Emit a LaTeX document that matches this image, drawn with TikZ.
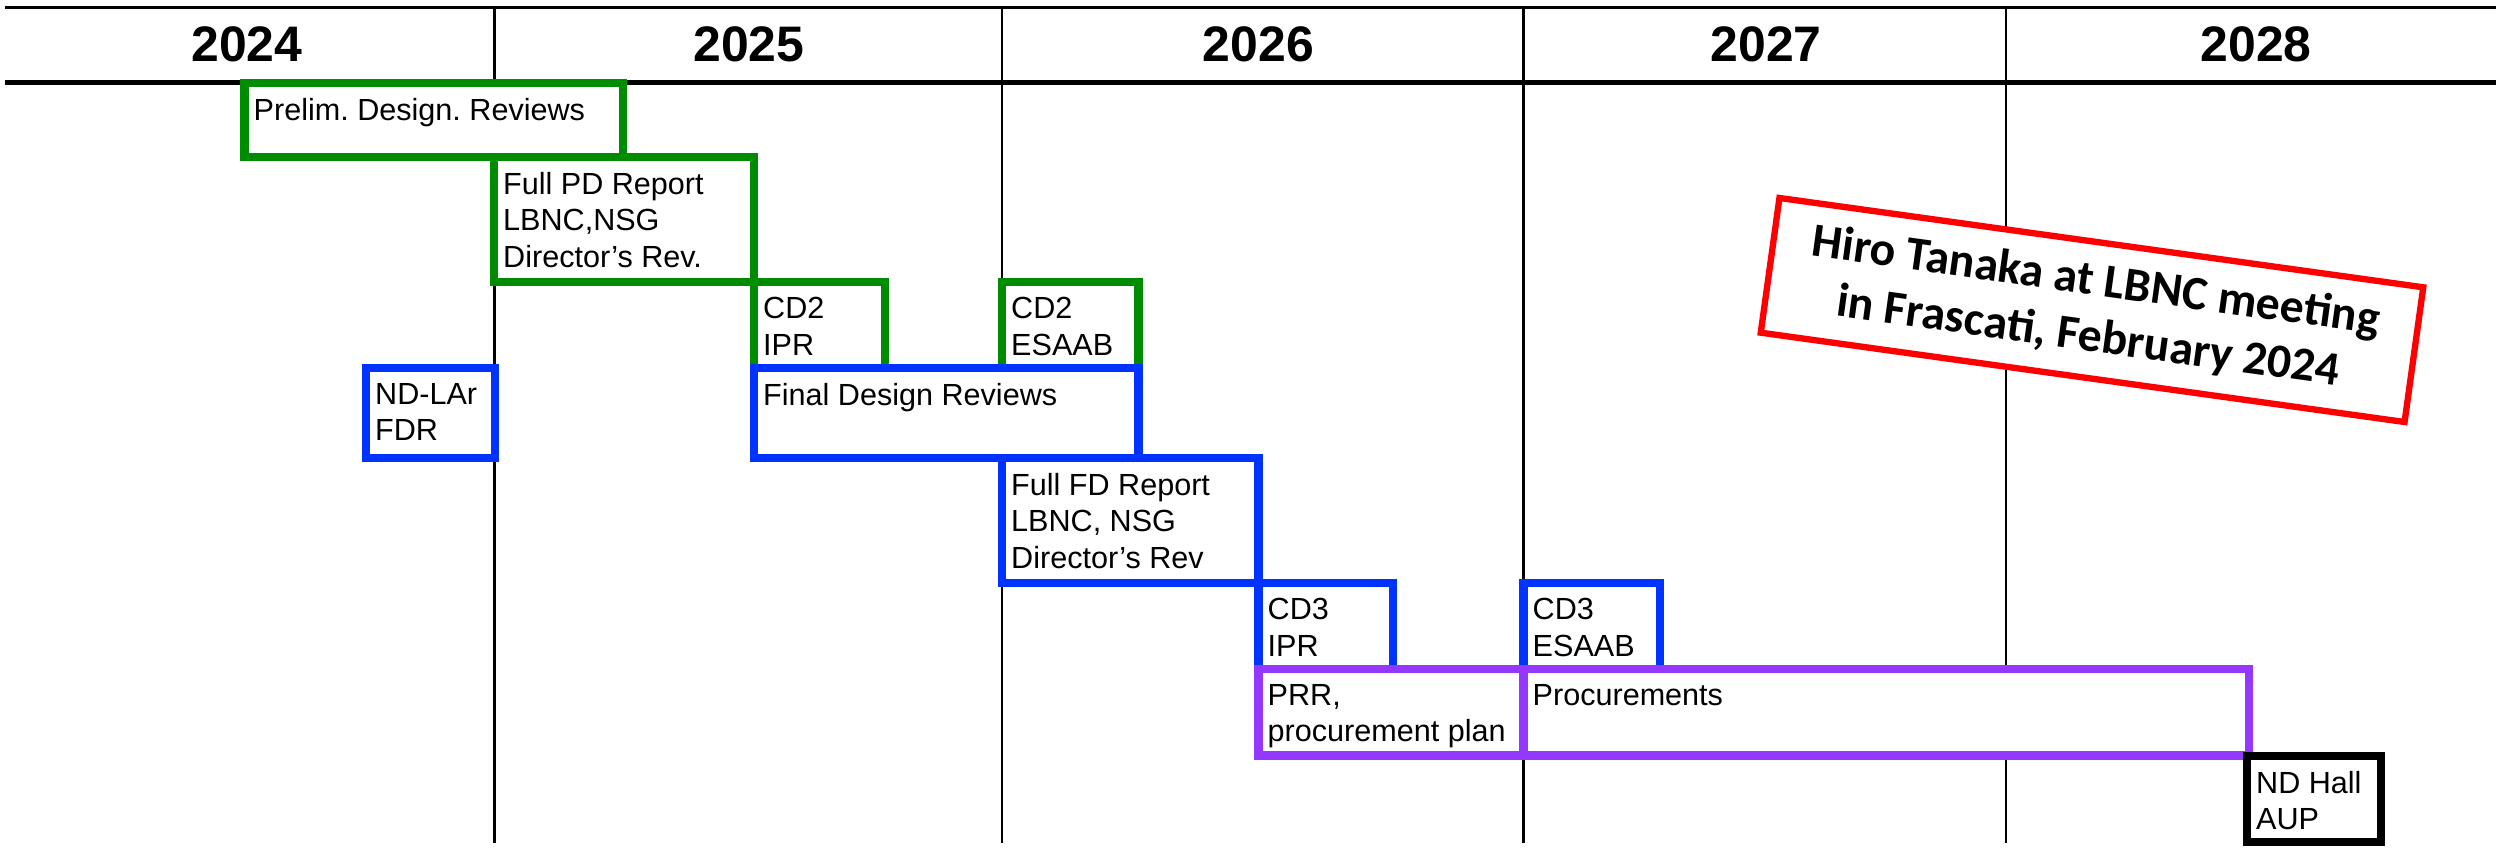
\documentclass[tikz,border=0pt]{standalone}
\usepackage{fontspec}
\setmainfont{Liberation Sans}
\newfontfamily\stampfont{Carlito}
\usepackage{tikz}
\usetikzlibrary{positioning}
\definecolor{pdgreen}{RGB}{0,140,0}
\definecolor{fdblue}{RGB}{0,51,255}
\definecolor{procpurple}{RGB}{148,56,255}
\definecolor{stampred}{RGB}{255,0,0}
\frenchspacing

\begin{document}
\begin{tikzpicture}[
    y=-1cm,
    task/.style={rectangle, draw=#1, line width=2.3pt, fill=white, anchor=north west,
                 inner sep=0pt, outer sep=0pt},
    txt/.style={anchor=north west, align=left, inner sep=0pt,
                font=\fontsize{8.7}{10.4}\selectfont},
    year/.style={anchor=base, font=\fontsize{14.2}{17}\selectfont\bfseries},
    divider/.style={line width=0.6pt},
    stamp/.style={rectangle, draw=stampred, line width=1.8pt, fill=white,
                  minimum width=6.5cm, minimum height=1.36cm, align=center, inner sep=0pt,
                  font=\stampfont\bfseries\fontsize{13.6}{16}\selectfont}
]
\useasboundingbox (0,0) rectangle (24.96,8.50);

\draw[line width=0.85pt] (0.05,0.075) -- (24.96,0.075);
\draw[line width=1.15pt] (0.05,0.825) -- (24.96,0.825);
\draw[divider] (4.945,0.075) -- (4.945,8.43);
\draw[divider] (10.02,0.075) -- (10.02,8.43);
\draw[divider] (15.235,0.075) -- (15.235,8.43);
\draw[divider] (20.06,0.075) -- (20.06,8.43);

\node[year] (y2024) at (2.47,0.62)  {2024};
\node[year] (y2025) at (7.49,0.62)  {2025};
\node[year] (y2026) at (12.585,0.62) {2026};
\node[year] (y2027) at (17.66,0.62) {2027};
\node[year] (y2028) at (22.56,0.62) {2028};

\node[task=pdgreen, minimum width=3.785cm, minimum height=0.74cm] (prelim) at (2.445,0.83) {};
\node[txt] at ([shift={(0.085,0.145)}]prelim.north west) {Prelim. Design. Reviews};
\node[task=pdgreen, minimum width=2.60cm, minimum height=1.25cm] (pdreport) at (4.94,1.57) {};
\node[txt] at ([shift={(0.085,0.145)}]pdreport.north west) {Full PD Report\\LBNC,NSG\\Director’s Rev.};
\node[task=pdgreen, minimum width=1.31cm, minimum height=0.86cm] (cdtwoipr) at (7.54,2.82) {};
\node[txt] at ([shift={(0.085,0.145)}]cdtwoipr.north west) {CD2\\IPR};
\node[task=pdgreen, minimum width=1.365cm, minimum height=0.86cm] (cdtwoesaab) at (10.02,2.82) {};
\node[txt] at ([shift={(0.085,0.145)}]cdtwoesaab.north west) {CD2\\ESAAB};

\node[task=fdblue, minimum width=1.29cm, minimum height=0.90cm] (ndlar) at (3.66,3.68) {};
\node[txt] at ([shift={(0.085,0.145)}]ndlar.north west) {ND-LAr\\FDR};
\node[task=fdblue, minimum width=3.845cm, minimum height=0.90cm] (fdreviews) at (7.54,3.68) {};
\node[txt] at ([shift={(0.085,0.145)}]fdreviews.north west) {Final Design Reviews};
\node[task=fdblue, minimum width=2.565cm, minimum height=1.25cm] (fdreport) at (10.02,4.58) {};
\node[txt] at ([shift={(0.085,0.145)}]fdreport.north west) {Full FD Report\\LBNC, NSG\\Director’s Rev};
\node[task=fdblue, minimum width=1.345cm, minimum height=0.86cm] (cdthreeipr) at (12.585,5.83) {};
\node[txt] at ([shift={(0.085,0.145)}]cdthreeipr.north west) {CD3\\IPR};
\node[task=fdblue, minimum width=1.365cm, minimum height=0.86cm] (cdthreeesaab) at (15.235,5.83) {};
\node[txt] at ([shift={(0.085,0.145)}]cdthreeesaab.north west) {CD3\\ESAAB};

\node[task=procpurple, minimum width=2.65cm, minimum height=0.865cm] (prr) at (12.585,6.69) {};
\node[txt] at ([shift={(0.085,0.145)}]prr.north west) {PRR,\\procurement plan};
\node[task=procpurple, minimum width=7.255cm, minimum height=0.865cm] (procure) at (15.235,6.69) {};
\node[txt] at ([shift={(0.085,0.145)}]procure.north west) {Procurements};

\node[task=black, minimum width=1.34cm, minimum height=0.86cm] (ndhall) at (22.47,7.56) {};
\node[txt] at ([shift={(0.085,0.145)}]ndhall.north west) {ND Hall\\AUP};

\node[stamp, rotate=-7.9] (meeting) at (20.92,3.10) {Hiro Tanaka at LBNC meeting\\in Frascati, February 2024};
\end{tikzpicture}
\end{document}
